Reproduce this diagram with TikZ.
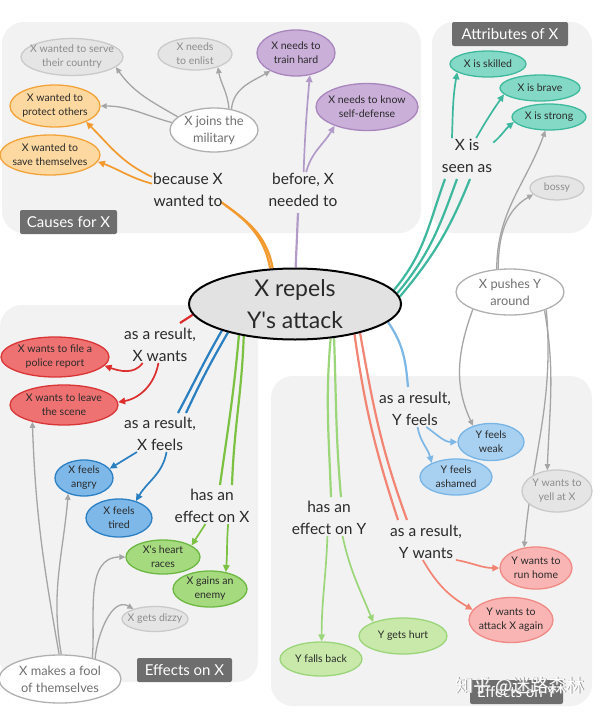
\documentclass[tikz,border=0pt]{standalone}
\usepackage{fontspec}
\setmainfont{Lato}
\newfontfamily\cjkfont{Noto Sans CJK SC}
\usetikzlibrary{shapes.geometric,arrows.meta}
\definecolor{panelbg}{HTML}{F2F2F2}
\definecolor{taggray}{HTML}{6E6E6E}
\definecolor{darktext}{HTML}{2A2A2A}
\definecolor{graytext}{HTML}{8C8C8C}
\definecolor{wtext}{HTML}{707070}
\definecolor{centerfill}{HTML}{E2E2E2}
\definecolor{orangeF}{HTML}{FDD8A0}\definecolor{orangeD}{HTML}{F2A33A}\definecolor{orangeL}{HTML}{F29A2E}
\definecolor{purpleF}{HTML}{CAAFD9}\definecolor{purpleD}{HTML}{A985BD}\definecolor{purpleL}{HTML}{B39BC9}
\definecolor{tealF}{HTML}{84D9C6}\definecolor{tealD}{HTML}{3DBA9E}\definecolor{tealL}{HTML}{3DB89E}
\definecolor{redF}{HTML}{EF7272}\definecolor{redD}{HTML}{D93535}\definecolor{redL}{HTML}{DD2E2E}
\definecolor{blueF}{HTML}{7DB8E8}\definecolor{blueD}{HTML}{2B7FC3}\definecolor{blueL}{HTML}{2A7FC0}
\definecolor{greenF}{HTML}{A6DA7F}\definecolor{greenD}{HTML}{6DB842}\definecolor{greenL}{HTML}{7CC242}
\definecolor{lgreenF}{HTML}{C8E9A9}\definecolor{lgreenD}{HTML}{9BD57A}\definecolor{lgreenL}{HTML}{9CD67A}
\definecolor{pinkF}{HTML}{F9B4B4}\definecolor{pinkD}{HTML}{F08A85}\definecolor{salmonL}{HTML}{F28474}
\definecolor{lblueF}{HTML}{A7D0F1}\definecolor{lblueD}{HTML}{78B5E5}\definecolor{lblueL}{HTML}{7DB7E6}
\definecolor{grayF}{HTML}{E5E5E5}\definecolor{grayD}{HTML}{CACACA}\definecolor{grayL}{HTML}{A5A5A5}
\definecolor{whiteD}{HTML}{B0B0B0}
\pgfdeclarelayer{bg}\pgfdeclarelayer{lines}
\pgfsetlayers{bg,lines,main}
\newcommand{\blobnode}[7]{%
  \node[blob,#1,minimum width=#5pt,minimum height=#6pt] (#3) at (#4) {};
  \node[btxt,#2] (#3-t) at (#3) {#7};}
\newcommand{\apos}{\textquotesingle}
\begin{document}
\begin{tikzpicture}[x=1pt,y=1pt,
  blob/.style={ellipse, draw, line width=1.3pt, inner sep=0pt},
  btxt/.style={align=center, font=\fontsize{10.5}{14}\selectfont, inner sep=0pt, text=darktext},
  rel/.style={align=center, font=\fontsize{15.5}{22}\selectfont, inner sep=1pt, text=darktext},
  tag/.style={fill=taggray, text=white, rounded corners=2pt, font=\fontsize{15}{16}\selectfont, inner sep=0pt, minimum height=24pt},
  orangeN/.style={fill=orangeF, draw=orangeD},
  purpleN/.style={fill=purpleF, draw=purpleD},
  tealN/.style={fill=tealF, draw=tealD},
  redN/.style={fill=redF, draw=redD},
  blueN/.style={fill=blueF, draw=blueD},
  greenN/.style={fill=greenF, draw=greenD},
  lgreenN/.style={fill=lgreenF, draw=lgreenD},
  pinkN/.style={fill=pinkF, draw=pinkD},
  lblueN/.style={fill=lblueF, draw=lblueD},
  grayN/.style={fill=grayF, draw=grayD},
  whiteN/.style={fill=white, draw=whiteD},
  gt/.style={text=graytext},
  wt/.style={text=wtext, font=\fontsize{12.8}{17}\selectfont},
  dt/.style={text=darktext},
  trunk/.style={line width=2.2pt},
  arr/.style={line width=1.7pt, -{Triangle[length=7pt,width=6.5pt]}},
  garr/.style={line width=1.3pt, draw=grayL, -{Triangle[length=6pt,width=5.5pt]}}
]
\useasboundingbox (0,0) rectangle (600,-712);
\begin{pgfonlayer}{bg}
\fill[white] (0,0) rectangle (600,-712);
\fill[panelbg, rounded corners=22pt] (2,-22) rectangle (421,-233);
\fill[panelbg, rounded corners=22pt] (432,-22) rectangle (592,-233);
\fill[panelbg, rounded corners=22pt] (0,-305) rectangle (258,-682);
\fill[panelbg, rounded corners=22pt] (271,-376) rectangle (592,-706);
\end{pgfonlayer}

% panel tags
\node[tag, minimum width=97pt] (tagCauses) at (68.5,-222) {Causes for X};
\node[tag, minimum width=116pt] (tagAttr) at (510,-34) {Attributes of X};
\node[tag, minimum width=95pt] (tagEffX) at (184.5,-670) {Effects on X};
\node[tag, minimum width=93pt] (tagEffY) at (516.5,-692) {Effects on Y};

% central node
\node[blob, fill=centerfill, draw=black, line width=2pt, minimum width=212pt, minimum height=71pt] (C) at (295,-304) {};
\node[align=center, font=\fontsize{23}{32}\selectfont, text=darktext, inner sep=0pt] (C-t) at (C) {X repels\\Y\apos s attack};

% causes
\blobnode{grayN}{gt}{serve}{72,-57}{102}{37}{X wanted to serve\\their country}
\blobnode{grayN}{gt}{enlist}{195,-54}{74}{32}{X needs\\to enlist}
\blobnode{purpleN}{dt}{train}{296,-53}{78}{46}{X needs to\\train hard}
\blobnode{purpleN}{dt}{selfdef}{367,-107}{102}{47}{X needs to know\\self-defense}
\blobnode{orangeN}{dt}{protect}{55,-106}{90}{42}{X wanted to\\protect others}
\blobnode{orangeN}{dt}{save}{50,-155}{100}{40}{X wanted to\\save themselves}
\blobnode{whiteN}{wt}{military}{214,-130}{88}{44}{X joins the\\military}
% attributes
\blobnode{tealN}{dt}{skilled}{488,-64}{76}{26}{X is skilled}
\blobnode{tealN}{dt}{brave}{540,-88}{80}{26}{X is brave}
\blobnode{tealN}{dt}{strong}{549,-117}{74}{26}{X is strong}
\blobnode{grayN}{gt}{bossy}{557,-188}{54}{24}{bossy}
\blobnode{whiteN}{wt}{pushes}{510,-292}{108}{46}{X pushes Y\\around}
% effects on X
\blobnode{redN}{dt}{police}{55,-357}{108}{40}{X wants to file a\\police report}
\blobnode{redN}{dt}{leave}{64,-405}{108}{40}{X wants to leave\\the scene}
\blobnode{blueN}{dt}{angry}{84,-478}{58}{36}{X feels\\angry}
\blobnode{blueN}{dt}{tired}{119,-518}{66}{38}{X feels\\tired}
\blobnode{greenN}{dt}{heart}{163,-557}{74}{34}{X\apos s heart\\races}
\blobnode{greenN}{dt}{enemy}{210,-589}{74}{36}{X gains an\\enemy}
\blobnode{grayN}{gt}{dizzy}{155,-619}{66}{25}{X gets dizzy}
\blobnode{whiteN}{wt}{fool}{60,-679}{122}{48}{X makes a fool\\of themselves}
% effects on Y
\blobnode{lblueN}{dt}{weak}{491,-442}{66}{37}{Y feels\\weak}
\blobnode{lblueN}{dt}{ashamed}{456,-477}{72}{36}{Y feels\\ashamed}
\blobnode{grayN}{gt}{yell}{557,-491}{70}{42}{Y wants to\\yell at X}
\blobnode{pinkN}{dt}{runhome}{536,-568}{72}{42}{Y wants to\\run home}
\blobnode{pinkN}{dt}{attack}{511,-620}{84}{45}{Y wants to\\attack X again}
\blobnode{lgreenN}{dt}{hurt}{403,-636}{88}{36}{Y gets hurt}
\blobnode{lgreenN}{dt}{fallsback}{321,-659}{82}{34}{Y falls back}

% relation labels
\node[rel] (because) at (188,-190) {because X\\wanted to};
\node[rel] (before) at (303,-190) {before, X\\needed to};
\node[rel] (seen) at (467,-156) {X is\\seen as};
\node[rel] (xwants) at (160,-345) {as a result,\\X wants};
\node[rel] (xfeels) at (160,-434) {as a result,\\X feels};
\node[rel] (effx) at (212,-506) {has an\\effect on X};
\node[rel] (yfeels) at (415,-409) {as a result,\\Y feels};
\node[rel] (effy) at (329,-518) {has an\\effect on Y};
\node[rel] (ywants) at (426,-542) {as a result,\\Y wants};

% trunk end points
\coordinate (oA) at (221,-202); \coordinate (oB) at (225,-205);
\coordinate (pA) at (298,-213);
\coordinate (tA) at (445,-179); \coordinate (tB) at (457,-179); \coordinate (tC) at (470,-179);
\coordinate (rA) at (180,-323);
\coordinate (bA) at (178,-413); \coordinate (bB) at (186,-413);
\coordinate (gA) at (220,-485); \coordinate (gB) at (232,-485);
\coordinate (lgA) at (331,-497); \coordinate (lgB) at (341,-497);
\coordinate (sA) at (398,-520); \coordinate (sB) at (407,-520);
\coordinate (lbA) at (408,-387);

\begin{pgfonlayer}{lines}
% orange
\draw[trunk,orangeL] (C.125) to[out=100,in=-35] (oA);
\draw[trunk,orangeL] (C.122) to[out=100,in=-35] (oB);
\draw[arr,orangeL] (because.160) to[out=155,in=-45] (protect.-27);
\draw[arr,orangeL] (because.170) to[out=165,in=-20] (save.-8);
% purple
\draw[trunk,purpleL] (C.89) -- (pA);
\draw[arr,purpleL] (before.88) to[out=88,in=-95] (train.-58);
\draw[arr,purpleL] (before.80) to[out=75,in=-120] (selfdef.-150);
% teal
\draw[trunk,tealL] (C.8) to[out=50,in=-110] (tA);
\draw[trunk,tealL] (C.6) to[out=50,in=-110] (tB);
\draw[trunk,tealL] (C.4) to[out=50,in=-112] (tC);
\draw[arr,tealL] (seen.130) to[out=88,in=-100] (skilled.-165);
\draw[arr,tealL] (seen.63) to[out=60,in=-125] (brave.-170);
\draw[arr,tealL] (seen.27) to[out=40,in=-140] (strong.-172);
% gray from military
\draw[garr] (military.160) to[out=150,in=-55] (serve.-13);
\draw[garr] (military.170) to[out=165,in=0] (protect.0);
\draw[garr] (military.55) to[out=95,in=-80] (enlist.-30);
\draw[garr] (military.50) to[out=85,in=-150] (train.-145);
% gray from pushes
\draw[garr] (pushes.120) to[out=90,in=-110] (strong.-105);
\draw[garr] (pushes.117) to[out=90,in=-150] (bossy.-165);
\draw[garr] (pushes.-155) to[out=-110,in=115] (weak.138);
\draw[garr] (pushes.-28) to[out=-80,in=88] (yell.115);
\draw[garr] (pushes.-26) to[out=-85,in=85] (runhome.120);
% red
\draw[trunk,redL] (C.186) -- (rA);
\draw[arr,redL] (xwants.-134) to[out=235,in=-20] (police.-10);
\draw[arr,redL] (xwants.-95) to[out=-100,in=10] (leave.3);
% blue
\draw[trunk,blueL] (C.200) to[out=240,in=62] (bA);
\draw[trunk,blueL] (C.203) to[out=240,in=65] (bB);
\draw[arr,blueL] (xfeels.-142) -- (angry.20);
\draw[arr,blueL] (xfeels.-70) to[out=-100,in=60] (tired.45);
% green X
\draw[trunk,greenL] (C.209) to[out=-95,in=82] (gA);
\draw[trunk,greenL] (C.212) to[out=-92,in=88] (gB);
\draw[arr,greenL] (effx.-110) -- (heart.22);
\draw[arr,greenL] (effx.-48) to[out=-95,in=85] (enemy.47);
% gray from fool
\draw[garr] (fool.92) to[out=100,in=-88] (leave.-152);
\draw[garr] (fool.87) to[out=100,in=-95] (angry.-135);
\draw[garr] (fool.33) to[out=85,in=180] (heart.180);
\draw[garr] (fool.30) to[out=85,in=150] (dizzy.155);
% light blue
\draw[trunk,lblueL] (C.349) to[out=-55,in=95] (lbA);
\draw[arr,lblueL] (yfeels.-58) to[out=-35,in=180] (weak.180);
\draw[arr,lblueL] (yfeels.-82) to[out=-80,in=105] (ashamed.150);
% light green
\draw[trunk,lgreenL] (C.316) to[out=-95,in=92] (lgA);
\draw[trunk,lgreenL] (C.319) to[out=-88,in=95] (lgB);
\draw[arr,lgreenL] (effy.-95) to[out=-92,in=90] (fallsback.88);
\draw[arr,lgreenL] (effy.-53) to[out=-78,in=112] (hurt.155);
% salmon
\draw[trunk,salmonL] (C.333) to[out=-82,in=108] (sA);
\draw[trunk,salmonL] (C.336) to[out=-80,in=110] (sB);
\draw[arr,salmonL] (ywants.-31) to[out=-10,in=180] (runhome.180);
\draw[arr,salmonL] (ywants.-100) to[out=-60,in=150] (attack.165);
\end{pgfonlayer}

% watermark
\node[font=\cjkfont\fontsize{18}{18}\selectfont, text=gray!80, inner sep=0pt] (wmshadow) at (520.7,-686.7) {知乎 @迷路森林};
\node[font=\cjkfont\fontsize{18}{18}\selectfont, text=white, inner sep=0pt] (wm) at (520,-686) {知乎 @迷路森林};
\end{tikzpicture}
\end{document}
